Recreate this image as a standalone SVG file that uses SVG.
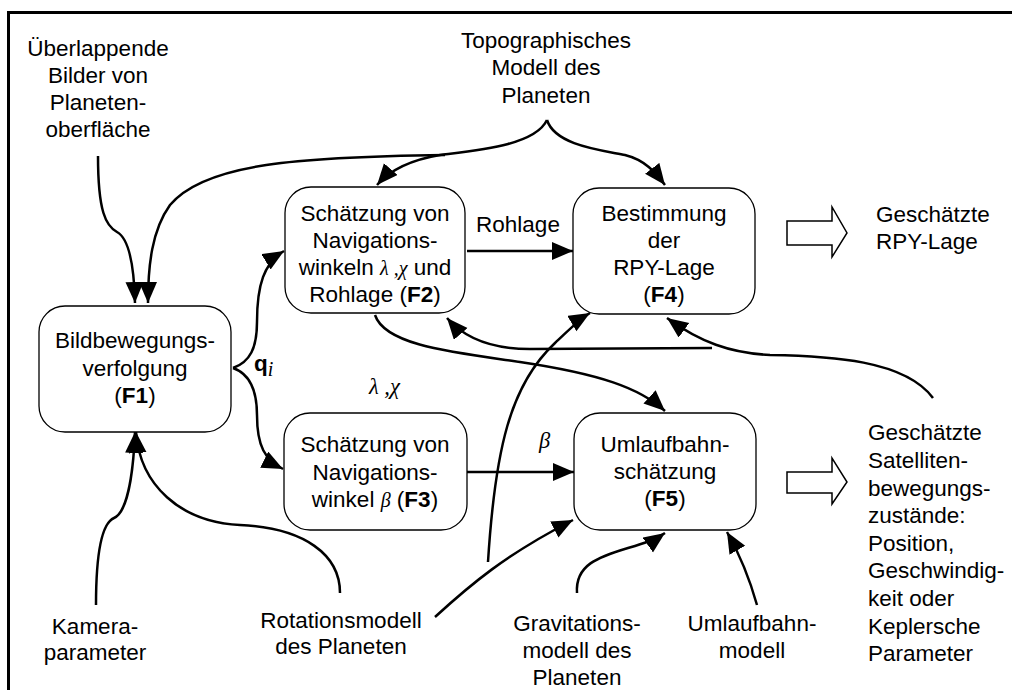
<svg xmlns="http://www.w3.org/2000/svg" width="1012" height="690" viewBox="0 0 1012 690">
<defs>
<marker id="ah" markerUnits="userSpaceOnUse" markerWidth="23" markerHeight="20" refX="21" refY="9" orient="auto" viewBox="0 0 23 20">
<path d="M0,0 L21,9 L0,18 z" fill="#000"/>
</marker>
<style>
text{font-family:"Liberation Sans",Arial,sans-serif;font-size:22.5px;fill:#000}
.c{text-anchor:middle}
.b{font-weight:bold}
.m{font-family:"Liberation Serif","Times New Roman",serif;font-style:italic}
.node rect{fill:#fff;stroke:#000;stroke-width:1.3}
.conn path{fill:none;stroke:#000;stroke-width:2.5}
.arr path{marker-end:url(#ah)}
.hollow{fill:#fff;stroke:#000;stroke-width:1.5}
</style>
</defs>
<rect width="1012" height="690" fill="#fff"/>
<path d="M8.5,690 L8.5,12.5 L1012,12.5" fill="none" stroke="#000" stroke-width="3"/>

<g id="connectors" class="conn">
<g class="arr">
<path d="M467,251 L573,251"/>
<path d="M467,472 L574,472"/>
<path d="M233,368 C250,362 257,348 257,322 C257,285 264,263 284,251"/>
<path d="M233,368 C250,374 257,390 257,415 C257,446 265,460 283,469"/>
<path d="M98,156 C98,212 106,226 117,232 C128,238 134,262 135,303"/>
<path d="M445,155 C300,157 205,163 170,205 C152,230 148,265 148,303"/>
<path d="M547,120 C535,145 480,150 440,155 C410,160 390,170 377,185"/>
<path d="M547,120 C555,145 600,150 625,155 C645,160 655,172 665,185"/>
<path d="M375,315 C385,345 450,352 520,362 C600,374 640,388 665,411"/>
<path d="M933,398 C905,360 830,356 770,355 C730,353 700,342 667,318"/>
<path d="M712,348 L530,349 C495,349 466,340 447,318"/>
<path d="M340,593 C340,555 305,528 240,525 C180,522 140,485 136,432"/>
<path d="M96,605 C96,560 100,524 114,518 C126,513 133,480 135,432"/>
<path d="M435,617 C470,585 505,555 573,520"/>
<path d="M488,562 C495,450 510,385 555,343 C566,333 578,320 590,313"/>
<path d="M577,593 C575,565 598,557 628,548 C645,543 655,540 665,533"/>
<path d="M757,605 C750,580 740,555 727,532"/>
</g>
</g>

<g id="F1" class="node">
<rect x="39" y="306" width="192" height="126" rx="26"/>
<text class="c" x="135" y="348">Bildbewegungs-</text>
<text class="c" x="135" y="375.5">verfolgung</text>
<text class="c" x="135" y="403">(<tspan class="b">F1</tspan>)</text>
</g>
<g id="F2" class="node">
<rect x="285" y="187" width="180" height="126" rx="26"/>
<text class="c" x="375" y="221">Schätzung von</text>
<text class="c" x="375" y="248">Navigations-</text>
<text class="c" x="375" y="275">winkeln <tspan class="m" font-size="20">λ ,χ</tspan> und</text>
<text class="c" x="375" y="302">Rohlage (<tspan class="b">F2</tspan>)</text>
</g>
<g id="F4" class="node">
<rect x="573" y="188" width="182" height="126" rx="26"/>
<text class="c" x="664" y="221">Bestimmung</text>
<text class="c" x="664" y="248">der</text>
<text class="c" x="664" y="275">RPY-Lage</text>
<text class="c" x="664" y="302">(<tspan class="b">F4</tspan>)</text>
</g>
<g id="F3" class="node">
<rect x="284" y="413" width="183" height="117" rx="26"/>
<text class="c" x="375" y="452">Schätzung von</text>
<text class="c" x="375" y="480">Navigations-</text>
<text class="c" x="375" y="507">winkel <tspan class="m" font-size="20">β</tspan> (<tspan class="b">F3</tspan>)</text>
</g>
<g id="F5" class="node">
<rect x="574" y="413" width="182" height="117" rx="26"/>
<text class="c" x="665" y="452">Umlaufbahn-</text>
<text class="c" x="665" y="479">schätzung</text>
<text class="c" x="665" y="506">(<tspan class="b">F5</tspan>)</text>
</g>

<g id="in-images">
<text class="c" x="98" y="56">Überlappende</text>
<text class="c" x="98" y="83">Bilder von</text>
<text class="c" x="98" y="110">Planeten-</text>
<text class="c" x="98" y="137">oberfläche</text>
</g>
<g id="in-topo">
<text class="c" x="546" y="48">Topographisches</text>
<text class="c" x="546" y="75">Modell des</text>
<text class="c" x="546" y="103">Planeten</text>
</g>
<g id="out-rpy">
<path class="hollow" d="M787,221 L832,221 L832,207 L847,233 L832,257 L832,245 L787,245 z"/>
<text x="876" y="222">Geschätzte</text>
<text x="876" y="249">RPY-Lage</text>
</g>
<g id="out-state">
<path class="hollow" d="M787,472 L832,472 L832,458 L847,482 L832,504 L832,493 L787,493 z"/>
<text x="868" y="440">Geschätzte</text>
<text x="868" y="468">Satelliten-</text>
<text x="868" y="495.5">bewegungs-</text>
<text x="868" y="523">zustände:</text>
<text x="868" y="551">Position,</text>
<text x="868" y="578">Geschwindig-</text>
<text x="868" y="606">keit oder</text>
<text x="868" y="634">Keplersche</text>
<text x="868" y="661">Parameter</text>
</g>
<g id="in-kamera">
<text class="c" x="95" y="634">Kamera-</text>
<text class="c" x="95" y="660">parameter</text>
</g>
<g id="in-rotation">
<text class="c" x="341" y="628">Rotationsmodell</text>
<text class="c" x="341" y="654">des Planeten</text>
</g>
<g id="in-gravitation">
<text class="c" x="577" y="631">Gravitations-</text>
<text class="c" x="577" y="658">modell des</text>
<text class="c" x="577" y="685">Planeten</text>
</g>
<g id="in-orbit">
<text class="c" x="752" y="631">Umlaufbahn-</text>
<text class="c" x="752" y="658">modell</text>
</g>

<g id="labels">
<text class="c" x="518" y="232">Rohlage</text>
<text x="369" y="394" class="m" font-size="29">λ ,χ</text>
<text x="539" y="448" class="m" font-size="29">β</text>
<text x="254" y="371" class="b" font-size="34">q<tspan class="m" font-weight="normal" font-size="20" dy="5">i</tspan></text>
</g>
</svg>
